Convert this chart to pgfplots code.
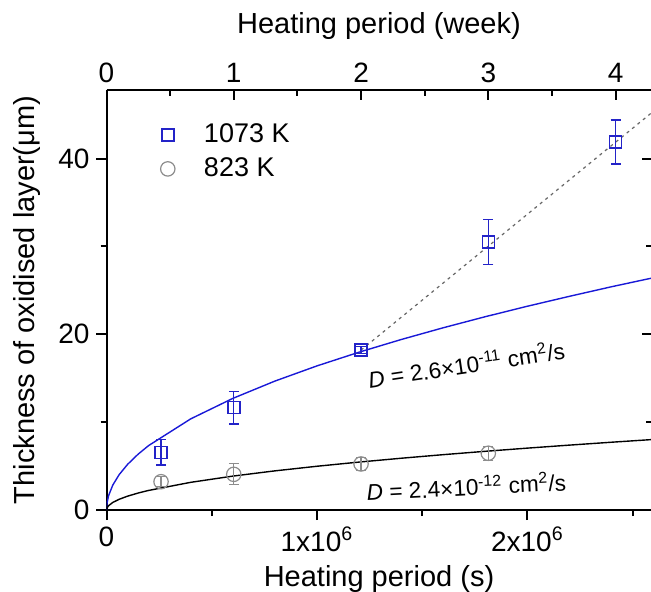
\documentclass[border=0pt]{standalone}
\usepackage{fontspec}
\setmainfont{Liberation Sans}
\usepackage{pgfplots}
\usepackage{pgfplotstable}
\pgfplotsset{compat=1.18}
\definecolor{myblue}{RGB}{35,35,200}
\definecolor{curveblue}{RGB}{25,25,215}
\definecolor{mygray}{RGB}{140,140,140}

\pgfplotstableread{
x y e
259200 6.57 1.45
604800 11.65 1.85
1209600 18.2 0.4
1814400 30.5 2.55
2419200 41.9 2.5
}\hot
\pgfplotstableread{
x y e
259200 3.22 0.55
604800 4.06 1.2
1209600 5.24 0.7
1814400 6.46 0.8
}\cold
\pgfplotstableread{
x y
0 0
2000 0.733
10000 1.64
30000 2.84
60000 4.02
100000 5.19
150000 6.35
200000 7.33
400000 10.37
600000 12.70
800000 14.67
1000000 16.40
1200000 17.96
1400000 19.40
1600000 20.74
1800000 22.00
2000000 23.19
2200000 24.32
2400000 25.41
2600000 26.44
}\fithot
\pgfplotstableread{
x y
0 0
2000 0.223
10000 0.498
30000 0.863
60000 1.220
100000 1.575
150000 1.929
200000 2.227
400000 3.150
600000 3.857
800000 4.454
1000000 4.980
1200000 5.455
1400000 5.892
1600000 6.299
1800000 6.681
2000000 7.043
2200000 7.386
2400000 7.715
2600000 8.030
}\fitcold

\begin{document}
\begin{tikzpicture}
\path[use as bounding box] (0,0) rectangle (325.5pt,295.5pt);
\pgfplotsset{
  common/.style={
    at={(53.25pt,40.5pt)}, anchor=south west, scale only axis,
    width=272.5pt, height=210pt,
    ymin=0, ymax=47.8,
    axis line style={line width=1pt},
    major tick length=5pt, minor tick length=3pt,
    every tick/.style={line width=1pt, black},
    minor tick style={line width=1pt, black},
    ticklabel style={font=\fontsize{14}{16}\selectfont},
    label style={font=\fontsize{14.5}{17}\selectfont},
  }
}
\begin{axis}[common,
  xmin=0, xmax=2.59e6,
  axis x line*=bottom, axis y line*=left,
  tick align=outside,
  xtick={0,1e6,2e6}, xticklabels={0,1x10\textsuperscript{6},2x10\textsuperscript{6}},
  minor xtick={5e5,1.5e6,2.5e6},
  ytick={0,20,40}, yticklabels={0,20,40}, minor ytick={10,30},
  scaled x ticks=false,
  xlabel={Heating period (s)},
  ylabel={Thickness of oxidised layer(μm)},
  xlabel style={at={(axis description cs:0.5,-0.182)}, anchor=base},
  ylabel style={at={(axis description cs:-0.1312,0.5)}, anchor=base, rotate=0},
  legend cell align=left,
  legend style={draw=none, fill=none, at={(axis description cs:0.0875,0.934)}, anchor=north west,
    font=\fontsize{13.5}{16}\selectfont, nodes={inner sep=1pt}, row sep=4pt,
    /tikz/every odd column/.append style={column sep=13.5pt}},
]
\addplot[curveblue, line width=0.7pt, forget plot] table[x=x,y=y] {\fithot};
\addplot[black, line width=0.7pt, forget plot] table[x=x,y=y] {\fitcold};
\addplot[gray!80!black, line width=0.6pt, dash pattern=on 1.5pt off 2pt, forget plot]
  coordinates {(1209600,18.2) (2590000,45.2)};
% error bars alone
\addplot[draw=none, mark=none, forget plot,
  error bars/.cd, y dir=both, y explicit,
  error bar style={line width=0.7pt, draw=myblue},
  error mark options={rotate=90, mark size=2.5pt, line width=0.7pt, draw=myblue}]
  table[x=x, y=y, y error=e] {\hot};
\addplot[draw=none, mark=none, forget plot,
  error bars/.cd, y dir=both, y explicit,
  error bar style={line width=0.6pt, draw=mygray},
  error mark options={rotate=90, mark size=2.5pt, line width=0.6pt, draw=mygray}]
  table[x=x, y=y, y error=e] {\cold};
% markers
\addplot[color=myblue, only marks, mark=square, mark size=3pt,
  mark options={draw=myblue, line width=0.75pt, fill=none, solid}]
  table[x=x, y=y] {\hot};
\addlegendentry{1073 K}
\addplot[color=mygray, only marks, mark=o, mark size=3.6pt,
  mark options={draw=mygray, line width=0.6pt, fill=none, solid}]
  table[x=x, y=y] {\cold};
\addlegendentry{823 K}
\node[rotate=8.5, font=\fontsize{11.3}{13}\selectfont] at (axis cs:1.71e6,16.6)
  {\textit{D} = 2.6×10\textsuperscript{-11} cm\textsuperscript{2}/s};
\node[rotate=3, font=\fontsize{11.3}{13}\selectfont] at (axis cs:1.71e6,2.7)
  {\textit{D} = 2.4×10\textsuperscript{-12} cm\textsuperscript{2}/s};
\end{axis}
\begin{axis}[common,
  xmin=0, xmax=4.2824,
  axis x line*=top, axis y line*=right,
  tick align=inside,
  xtick={0,1,2,3,4}, xticklabels={0,1,2,3,4},
  minor xtick={0.5,1.5,2.5,3.5},
  ytick={0,20,40}, yticklabels={}, minor ytick={10,30},
  xlabel={Heating period (week)},
  xlabel style={at={(axis description cs:0.5,1.1357)}, anchor=base},
]
\end{axis}
\end{tikzpicture}
\end{document}
